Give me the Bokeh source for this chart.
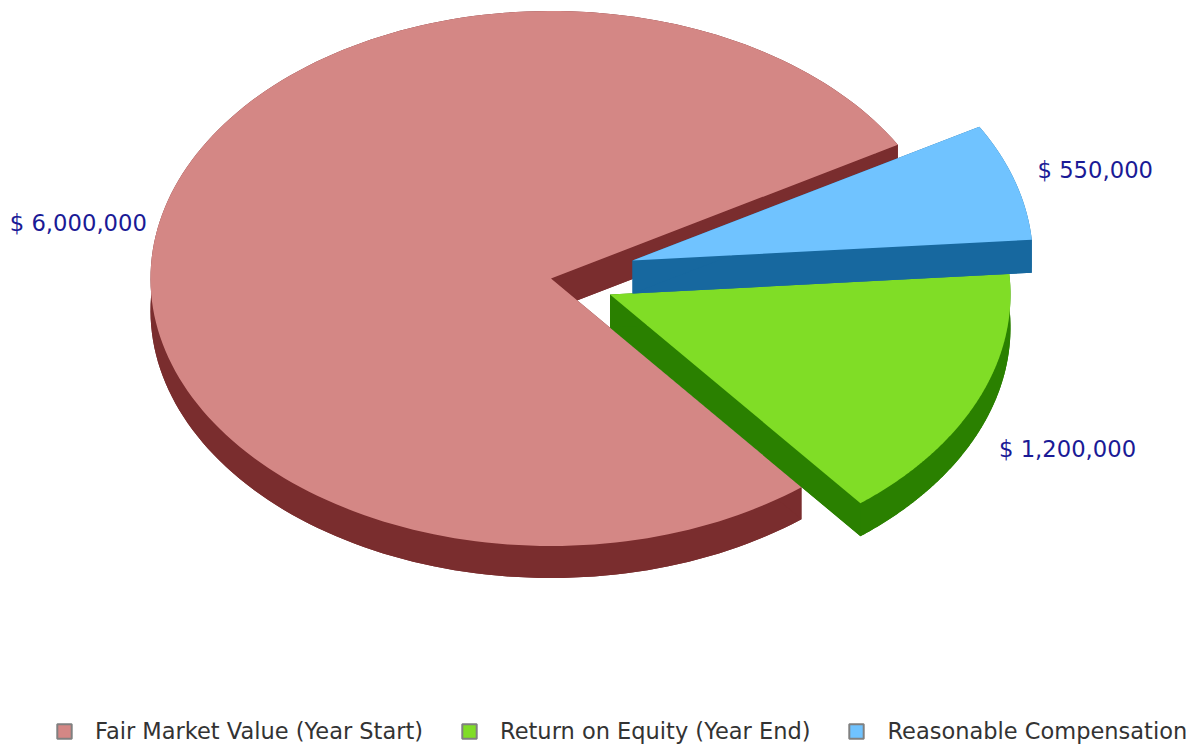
from math import cos, sin, radians
from bokeh.plotting import figure
from bokeh.models import Range1d, Legend, LegendItem
from bokeh.core.properties import value
from bokeh.embed import file_html
from bokeh.resources import INLINE

categories = ["Fair Market Value (Year Start)", "Return on Equity (Year End)", "Reasonable Compensation"]
amounts = [6000000, 1200000, 550000]
labels = ["$ 6,000,000", "$ 1,200,000", "$ 550,000"]
top_colors = ["#D48785", "#80DD26", "#70C3FF"]
side_colors = ["#7A2D2E", "#2A8000", "#17689F"]
legend_line = "#808080"
label_color = "#1A1A96"

W, H = 1195, 744
CX, CY, RX, RY = 550.5, 278, 400.5, 267.5
START_ANGLE = 30.0
depths = [32, 33, 33]
explode = [(0, 0), (59, 16), (81.5, -18)]
label_offset = [(-10.5, -6), (21.5, 48), (22.5, -11)]
label_align = ["right", "left", "left"]

p = figure(width=W, height=H, x_range=Range1d(0, W), y_range=Range1d(H, 0),
           toolbar_location=None, output_backend="svg", min_border=0,
           outline_line_color=None, background_fill_color="white")
p.axis.visible = False
p.grid.visible = False


def arc_points(cx, cy, a0, a1, n=180):
    pts = []
    for i in range(n + 1):
        a = radians(a0 + (a1 - a0) * i / n)
        pts.append((cx + RX * cos(a), cy - RY * sin(a)))
    return pts


total = sum(amounts)
angle = START_ANGLE
legend_items = []
for i, amt in enumerate(amounts):
    span = 360.0 * amt / total
    a0, a1 = angle, angle + span
    angle = a1
    cx, cy = CX + explode[i][0], CY + explode[i][1]
    d = depths[i]
    arc = arc_points(cx, cy, a0, a1)
    low = [(x, y + d) for x, y in arc]
    wedge_top = [(cx, cy)] + arc
    wedge_low = [(cx, cy + d)] + low
    wall = arc + low[::-1]
    edge0 = [(cx, cy), arc[0], low[0], (cx, cy + d)]
    edge1 = [(cx, cy), arc[-1], low[-1], (cx, cy + d)]
    parts = [wedge_low, wall, edge0, edge1]
    p.patches([[q[0] for q in s] for s in parts], [[q[1] for q in s] for s in parts],
              fill_color=side_colors[i], line_color=None)
    p.patch([q[0] for q in wedge_top], [q[1] for q in wedge_top],
            fill_color=top_colors[i], line_color=None)
    mid = radians((a0 + a1) / 2)
    tx = cx + RX * cos(mid) + label_offset[i][0]
    ty = cy - RY * sin(mid) + label_offset[i][1]
    p.text(x=[tx], y=[ty], text=[labels[i]], text_color=label_color, text_font=value("DejaVu Sans"),
           text_font_size="22.7px", text_align=label_align[i], text_baseline="middle")
    key = p.rect(x=[-500], y=[-500], width=1, height=1, fill_color=top_colors[i],
                 line_color=legend_line, line_width=2)
    legend_items.append(LegendItem(label=categories[i], renderers=[key]))

legend = Legend(items=legend_items, orientation="horizontal", location=(55, 0),
                border_line_color=None, background_fill_alpha=0, padding=0, margin=0,
                spacing=37, glyph_width=18, glyph_height=18, label_standoff=22,
                label_text_font="DejaVu Sans", label_text_font_size="22.5px",
                label_text_color="#333333", label_height=18)
p.add_layout(legend, "center")

open("out.html", "w").write(file_html(p, INLINE))
